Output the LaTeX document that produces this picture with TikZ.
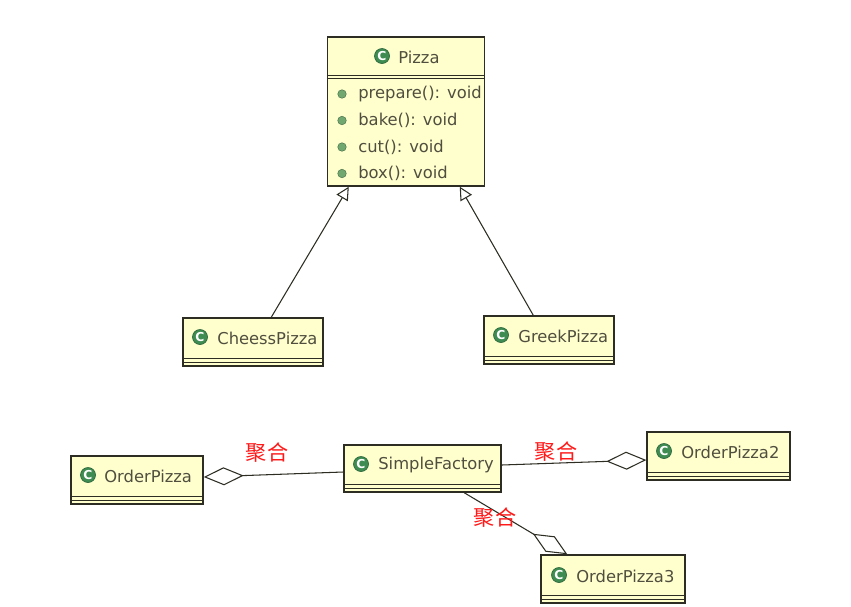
\documentclass[tikz,border=0pt]{standalone}
\usepackage{fontspec}
\setmainfont{DejaVu Sans}
\newfontfamily\cjk{Noto Sans CJK SC}
\usetikzlibrary{positioning, arrows.meta, calc}
\definecolor{classfill}{RGB}{255,255,206}
\definecolor{classborder}{RGB}{45,45,35}
\definecolor{classtext}{RGB}{80,78,62}
\definecolor{icongreen}{RGB}{62,140,82}
\definecolor{dotgreen}{RGB}{112,168,112}
\definecolor{aggrred}{RGB}{255,25,25}

\begin{document}
\begin{tikzpicture}[
    x=0.02cm, y=-0.02cm,
    umlclass/.style={rectangle, draw=classborder, fill=classfill, line width=0.85pt, inner sep=0pt},
    classname/.style={anchor=west, text=classtext, inner sep=0pt, font=\fontsize{9.3}{11}\selectfont},
    classicon/.style={circle, fill=icongreen, draw=icongreen!75!black, inner sep=0pt, minimum size=0.3cm,
        text=white, font=\fontsize{7}{7}\selectfont\bfseries},
    methoddot/.style={circle, fill=dotgreen, draw=dotgreen!70!black, line width=0.3pt, inner sep=0pt, minimum size=0.17cm},
    generalize/.style={-{Triangle[open, length=0.26cm, width=0.26cm]}, classborder, line width=0.6pt},
    aggregate/.style={-{Diamond[open, length=0.8cm, width=0.36cm]}, classborder, line width=0.6pt},
    aggrlabel/.style={text=aggrred, inner sep=0pt, font=\cjk\fontsize{12}{14}\selectfont}
]
\useasboundingbox[fill=white] (0,0) rectangle (851,606);

% Pizza (top class)
\node[umlclass, minimum width=3.14cm, minimum height=2.98cm] (pizza) at (406,111.5) {};
\draw[classborder, line width=0.6pt] ($(pizza.north west)+(0,39.5)$) -- ($(pizza.north east)+(0,39.5)$);
\draw[classborder, line width=0.6pt] ($(pizza.north west)+(0,42.5)$) -- ($(pizza.north east)+(0,42.5)$);
\node[classicon] (pizza-icon) at (382,56) {C};
\node[classname] (pizza-name) at (398,57) {Pizza};
\foreach \m [count=\i] in {prepare, bake, cut, box} {
    \node[methoddot] (pizza-dot\i) at (342, 67.5+26.5*\i) {};
    \node[classname] (pizza-op\i) at (358, 67.5+26.5*\i) {\m(): void};
}

% Subclasses
\node[umlclass, minimum width=2.8cm, minimum height=0.96cm] (cheess) at (253,342) {};
\node[classicon] (cheess-icon) at (200,337) {C};
\node[classname] (cheess-name) at (217,338) {CheessPizza};

\node[umlclass, minimum width=2.6cm, minimum height=0.96cm] (greek) at (549,340) {};
\node[classicon] (greek-icon) at (501,335) {C};
\node[classname] (greek-name) at (518,336) {GreekPizza};

% Factory and its clients
\node[umlclass, minimum width=2.64cm, minimum height=0.96cm] (order) at (137,480) {};
\node[classicon] (order-icon) at (88,475) {C};
\node[classname] (order-name) at (104,476) {OrderPizza};

\node[umlclass, minimum width=3.14cm, minimum height=0.94cm] (sfactory) at (422.5,468.5) {};
\node[classicon] (sfactory-icon) at (361,464) {C};
\node[classname] (sfactory-name) at (378,465) {SimpleFactory};

\node[umlclass, minimum width=2.86cm, minimum height=0.96cm] (order2) at (718.5,456) {};
\node[classicon] (order2-icon) at (664,451) {C};
\node[classname] (order2-name) at (681,452) {OrderPizza2};

\node[umlclass, minimum width=2.88cm, minimum height=0.96cm] (order3) at (613,579) {};
\node[classicon] (order3-icon) at (559,575) {C};
\node[classname] (order3-name) at (576,576) {OrderPizza3};

% empty attribute / operation compartments
\foreach \c in {cheess, greek, order, sfactory, order2, order3} {
    \draw[classborder, line width=0.6pt] ($(\c.south west)+(0,-8)$) -- ($(\c.south east)+(0,-8)$);
    \draw[classborder, line width=0.6pt] ($(\c.south west)+(0,-4)$) -- ($(\c.south east)+(0,-4)$);
}

% Inheritance
\draw[generalize] ($(cheess.north west)+(89,0)$) -- ($(pizza.south west)+(22,0)$);
\draw[generalize] ($(greek.north west)+(50,0)$) -- ($(pizza.south west)+(133,0)$);

% Aggregation
\draw[aggregate] ($(sfactory.west)+(0,3.5)$) -- ($(order.east)+(0,-3)$);
\draw[aggregate] ($(sfactory.east)+(0,-3.5)$) -- ($(order2.west)+(0,4)$);
\draw[aggregate] ($(sfactory.south west)+(121,0)$) -- ($(order3.north west)+(27,0)$);

\node[aggrlabel] (agg1) at (267,453) {聚合};
\node[aggrlabel] (agg2) at (556,452) {聚合};
\node[aggrlabel] (agg3) at (495,518) {聚合};

\end{tikzpicture}
\end{document}
